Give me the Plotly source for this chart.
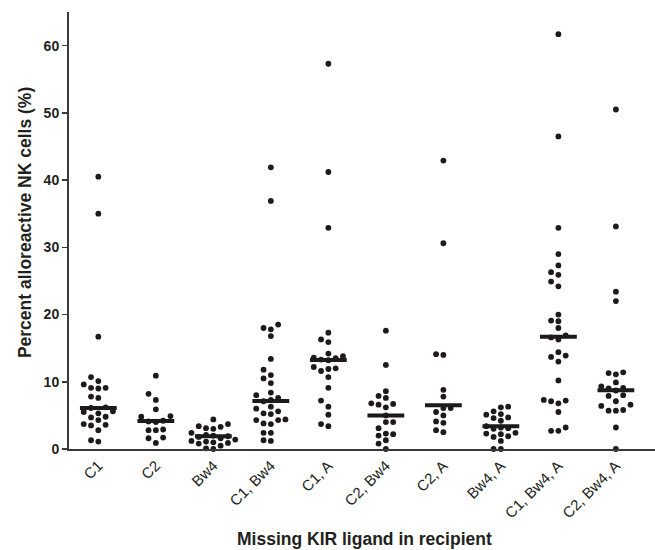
import plotly.graph_objects as go

categories = ["C1", "C2", "Bw4", "C1, Bw4", "C1, A", "C2, Bw4", "C2, A", "Bw4, A", "C1, Bw4, A", "C2, Bw4, A"]

c1 = [40.5, 35.0, 16.7, 10.7, 10.1, 9.6, 9.1, 9.0, 9.1, 7.8, 7.6, 6.2, 6.1, 5.6, 5.5, 5.3, 4.8, 4.7, 4.3, 3.7, 3.6, 3.5, 2.8, 1.3, 1.1]
c2 = [10.9, 8.2, 7.3, 5.9, 4.9, 4.8, 4.2, 4.1, 4.0, 2.9, 2.8, 2.8, 1.7, 1.6, 0.9]
bw4 = [4.4, 3.7, 3.4, 3.3, 3.1, 3.0, 2.4, 2.1, 2.0, 1.9, 1.8, 1.6, 1.4, 1.2, 1.1, 1.0, 0.9, 0.8, 0.5, 0.1, 0.0]
c1_bw4 = [41.9, 36.9, 18.5, 18.0, 17.8, 16.8, 13.4, 11.8, 11.0, 10.5, 9.8, 8.4, 8.0, 7.6, 7.3, 7.1, 6.3, 6.0, 5.6, 5.3, 5.2, 4.4, 4.3, 4.3, 3.8, 3.7, 2.4, 2.4, 1.3, 1.2]
c1_a = [57.3, 41.2, 32.9, 17.3, 16.3, 15.9, 14.2, 13.8, 13.6, 13.5, 13.3, 13.2, 12.2, 12.0, 11.9, 11.6, 10.7, 9.1, 7.2, 6.3, 5.1, 3.7, 3.4]
c2_bw4 = [17.6, 12.5, 8.6, 7.9, 7.6, 6.8, 6.7, 6.6, 6.2, 5.0, 4.0, 4.0, 3.1, 2.3, 2.2, 2.0, 1.3, 0.8, 0.0]
c2_a = [42.9, 30.6, 14.1, 14.0, 8.8, 7.8, 6.1, 6.1, 5.5, 5.0, 4.1, 3.9, 2.8, 2.5]
bw4_a = [6.3, 6.2, 5.6, 5.2, 5.1, 4.7, 4.6, 4.2, 3.4, 3.2, 3.1, 3.0, 2.4, 2.3, 2.2, 1.9, 1.8, 1.2, 0.0, 0.0]
c1_bw4_a = [61.7, 46.5, 32.9, 29.0, 27.3, 26.3, 25.9, 24.9, 24.2, 20.0, 19.1, 19.0, 18.0, 16.9, 16.6, 16.3, 14.4, 13.9, 13.7, 13.0, 10.2, 7.3, 7.2, 7.1, 6.8, 5.5, 3.2, 2.7, 2.7]
c2_bw4_a = [50.5, 33.1, 23.4, 22.0, 11.4, 11.3, 11.1, 9.9, 9.3, 9.1, 9.0, 8.7, 8.0, 7.9, 7.1, 6.6, 6.4, 5.8, 5.7, 5.7, 3.2, 0.0]

medians = [6.1, 4.15, 1.9, 7.15, 13.25, 5.0, 6.5, 3.4, 16.7, 8.75]

y_ticks = [0, 10, 20, 30, 40, 50, 60]

groups = [c1, c2, bw4, c1_bw4, c1_a, c2_bw4, c2_a, bw4_a, c1_bw4_a, c2_bw4_a]

# layout geometry (pixels) used for a deterministic swarm arrangement
ML, MR, MT, MB = 69, 0, 12, 101
W, H = 655, 550
XR = [-0.51, 9.68]
YR = [0, 65]
xpx = (W - ML - MR) / (XR[1] - XR[0])
ypx = (H - MT - MB) / (YR[1] - YR[0])


def swarm(vals, step=7.3, dmin=6.3):
    order = sorted(range(len(vals)), key=lambda k: vals[k])
    placed = []
    offs = [0.0] * len(vals)
    for k in order:
        yk = vals[k] * ypx
        xo = 0.0
        for j in [0, -1, 1, -2, 2, -3, 3, -4, 4, -5, 5]:
            xo = j * step
            if all((xo - px) ** 2 + (yk - py) ** 2 >= dmin ** 2 for px, py in placed):
                break
        placed.append((xo, yk))
        offs[k] = xo / xpx
    return offs


fig = go.Figure()
xs, ys = [], []
for i, g in enumerate(groups):
    offs = swarm(g)
    xs += [i + o for o in offs]
    ys += g
fig.add_trace(go.Scatter(x=xs, y=ys, mode="markers",
                         marker=dict(size=5.8, color="#1c1a1a", line=dict(width=0)),
                         cliponaxis=False, showlegend=False, hoverinfo="skip"))

mx, my = [], []
for i, m in enumerate(medians):
    mx += [i - 0.32, i + 0.32, None]
    my += [m, m, None]
fig.add_trace(go.Scatter(x=mx, y=my, mode="lines",
                         line=dict(color="#1c1a1a", width=4),
                         cliponaxis=False, showlegend=False, hoverinfo="skip"))

fig.update_layout(
    template="none",
    width=W, height=H,
    margin=dict(l=ML, r=MR, t=MT, b=MB, autoexpand=False),
    plot_bgcolor="white", paper_bgcolor="white",
    font=dict(family="Liberation Sans, Arial, sans-serif", color="#231f20"),
    xaxis=dict(range=XR, tickmode="array", tickvals=list(range(len(categories))),
               ticktext=categories, tickangle=-45, ticks="", showgrid=False,
               automargin=False, zeroline=False, showline=True,
               linecolor="#3a3a3a", linewidth=2,
               tickfont=dict(size=15, color="#231f20")),
    yaxis=dict(range=YR, tickmode="array", tickvals=y_ticks,
               ticktext=[str(t) for t in y_ticks], ticks="outside", ticklen=5,
               tickwidth=1.5, tickcolor="#3a3a3a", showgrid=False, zeroline=False,
               automargin=False, showline=True, linecolor="#3a3a3a", linewidth=2,
               tickfont=dict(size=14, color="#231f20", weight="bold")),
    annotations=[
        dict(text="<b>Missing KIR ligand in recipient</b>", xref="paper", yref="paper",
             x=0.505, y=-0.207, xanchor="center", yanchor="middle", showarrow=False,
             font=dict(size=17.5, color="#231f20")),
        dict(text="<b>Percent alloreactive NK cells (%)</b>", xref="paper", yref="paper",
             x=-0.075, y=0.517, xanchor="center", yanchor="middle", showarrow=False,
             textangle=-90, font=dict(size=17.5, color="#231f20")),
    ],
)

fig.write_html("out.html",
               config={"displayModeBar": False, "staticPlot": True},
               post_script="document.body.style.margin='0';document.body.style.padding='0';document.body.style.overflow='hidden';")
